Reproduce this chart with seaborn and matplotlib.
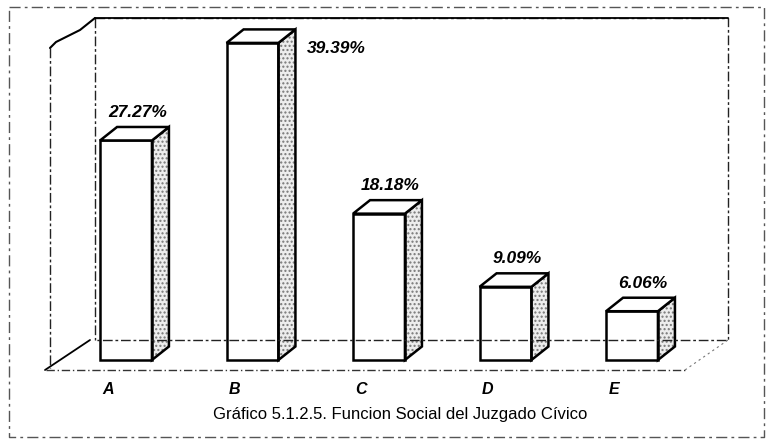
import numpy as np
import pandas as pd
import seaborn as sns
import matplotlib.pyplot as plt
from matplotlib.patches import Polygon
from matplotlib.lines import Line2D
from matplotlib.transforms import ScaledTranslation

categories = ["A", "B", "C", "D", "E"]
values = [27.27, 39.39, 18.18, 9.09, 6.06]
value_labels = ["27.27%", "39.39%", "18.18%", "9.09%", "6.06%"]
title = "Gráfico 5.1.2.5. Funcion Social del Juzgado Cívico"

W, H = 767, 441


def fx(x):
    return x / W


def fy(y):
    return 1 - y / H


def fig_line(fig, xs, ys, **kw):
    ln = Line2D([fx(x) for x in xs], [fy(y) for y in ys], transform=fig.transFigure, **kw)
    fig.add_artist(ln)
    return ln


sns.set_theme(style="white")
plt.rcParams["font.family"] = ["Liberation Sans", "DejaVu Sans"]
plt.rcParams["text.color"] = "black"
plt.rcParams["xtick.color"] = "black"

fig = plt.figure(figsize=(W / 100, H / 100), dpi=100)
# axes: x spans whole figure, bottom at the front floor line (y=370px)
ax = fig.add_axes([0, fy(370), 1, 370 / H])
ax.patch.set_visible(False)

df = pd.DataFrame({"cat": categories, "val": values})
sns.barplot(data=df, x="cat", y="val", color="white", edgecolor="black",
            linewidth=1.8, width=0.41, saturation=1, ax=ax, zorder=5)

ax.set_xlim((0 - 126) / 126.5, (W - 126) / 126.5)
ax.set_ylim(-10 / 8.05, 360 / 8.05)
ax.set_ylabel("")
ax.set_xlabel("")
ax.set_yticks([])
sns.despine(ax=ax, left=True, bottom=True)

# 3D depth of the bars (in data units)
dx = 17 / 126.5
dy = 13.5 / 8.05

for i, bar in enumerate(ax.patches[:len(values)]):
    x0 = bar.get_x()
    x1 = x0 + bar.get_width()
    v = bar.get_height()
    side = [(x1, 0), (x1, v), (x1 + dx, v + dy), (x1 + dx, dy)]
    ax.add_patch(Polygon(side, closed=True, facecolor="#ededed", edgecolor="#777777",
                         hatch="....", linewidth=0, zorder=4))
    ax.add_patch(Polygon(side, closed=True, facecolor="none", edgecolor="black",
                         linewidth=1.8, zorder=6))
    top = [(x0, v), (x0 + dx, v + dy), (x1 + dx, v + dy), (x1, v)]
    ax.add_patch(Polygon(top, closed=True, facecolor="white", edgecolor="black",
                         linewidth=1.8, zorder=6))
    if i == 1:
        ax.annotate(value_labels[i], (x1 + dx, v), xytext=(8, -4), textcoords="offset points",
                    ha="left", va="center", fontsize=12.5, fontweight="bold", style="italic")
    else:
        ax.annotate(value_labels[i], ((x0 + x1) / 2 + dx / 2, v + dy), xytext=(2, 5),
                    textcoords="offset points", ha="center", va="bottom",
                    fontsize=12.5, fontweight="bold", style="italic")

# category labels, shifted to the front-left like the 3D floor
ax.set_xticks(range(len(categories)))
ax.set_xticklabels(categories, fontsize=11.5, fontweight="bold", style="italic")
ax.tick_params(axis="x", length=0, pad=9)
for lab in ax.get_xticklabels():
    lab.set_transform(lab.get_transform() + ScaledTranslation(-0.18, 0, fig.dpi_scale_trans))

# walls and floor
wall = dict(color="#222222", linewidth=1.0, linestyle=(0, (7, 2, 2, 2)), zorder=1)
fig_line(fig, [95, 728, 728, 95], [18, 18, 340, 340], **wall)
fig_line(fig, [95, 95], [18, 340], **wall)
fig_line(fig, [50, 50], [48, 368], **wall)
fig_line(fig, [46, 685], [370, 370], color="#333333", linewidth=1.0,
         linestyle=(0, (6, 2, 1, 2)), zorder=1)
fig_line(fig, [685, 728], [370, 340], color="#777777", linewidth=0.8,
         linestyle=(0, (2, 3)), zorder=1)
fig_line(fig, [50, 56, 80, 95, 95], [48, 42, 30, 18, 18], color="black", linewidth=1.5, zorder=2)
fig_line(fig, [95, 728], [18, 18], color="black", linewidth=1.3, zorder=2)
fig_line(fig, [45, 90], [370, 340], color="black", linewidth=1.3, zorder=2)

# outer frame
fig_line(fig, [9, 764, 764, 9, 9], [7, 7, 437, 437, 7], color="#555555", linewidth=1.0,
         linestyle=(0, (8, 3, 2, 3)), zorder=1)

fig.text(fx(400), fy(414), title, ha="center", va="center", fontsize=12, color="black")

fig.savefig("out.png", dpi=100)
